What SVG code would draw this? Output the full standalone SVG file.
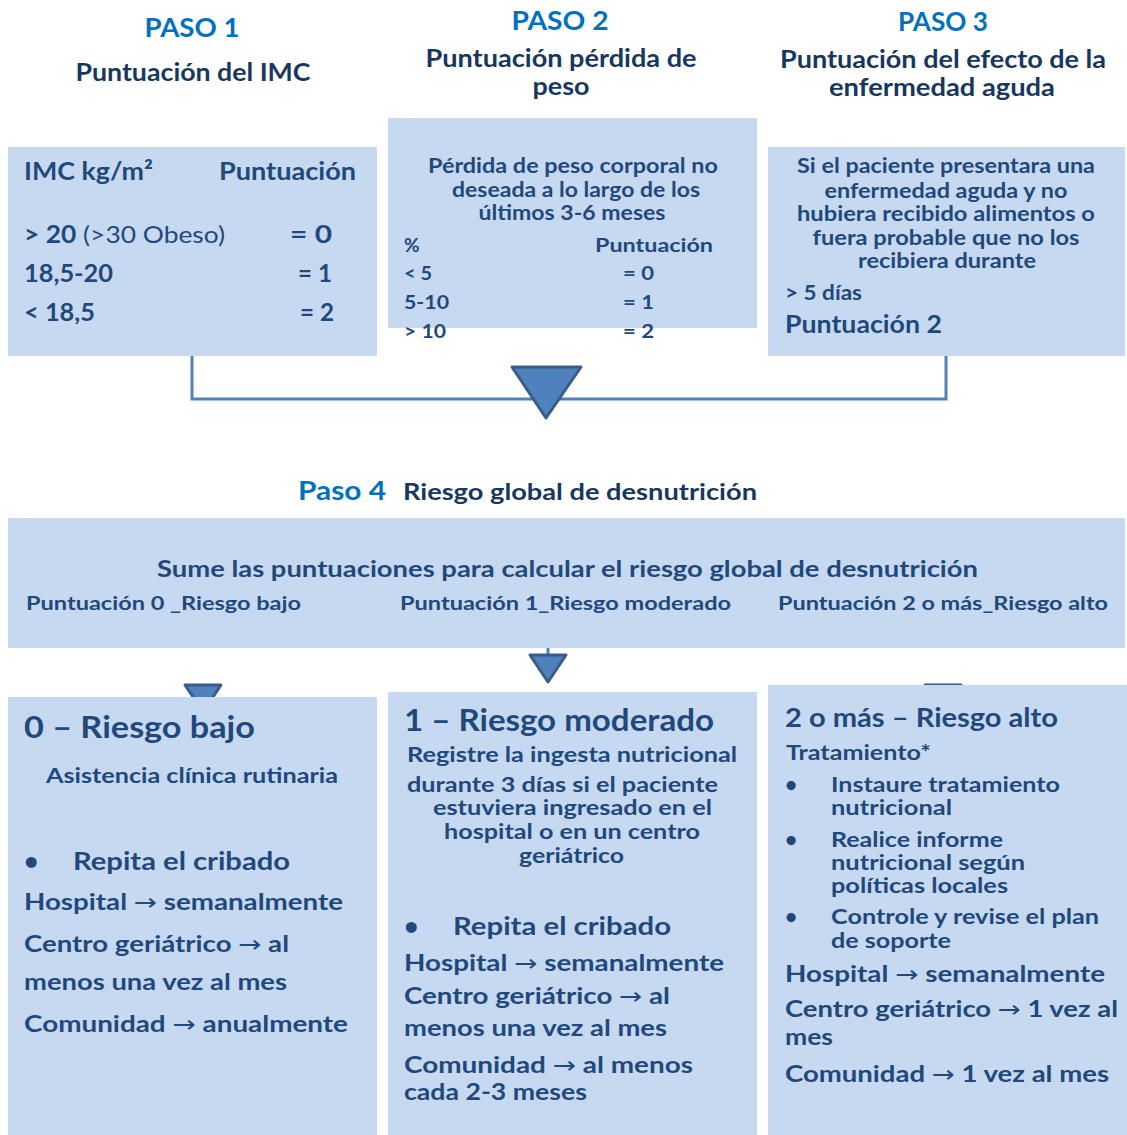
<svg xmlns="http://www.w3.org/2000/svg" width="1127" height="1135" viewBox="0 0 1127 1135">
<style>
text{font-family:Lato,"Open Sans","Liberation Sans",sans-serif;font-weight:700;fill:#1F497D}
.paso{fill:#0070C0;font-size:26px}
.head{fill:#17375E;font-size:25px}
.box{fill:#C6D9F0}
.c{text-anchor:middle}
.n{font-weight:400}
.arr{font-family:"DejaVu Sans",sans-serif;font-weight:400}
.line{fill:none;stroke:#4F81BD;stroke-width:3}
.tri{fill:#4F81BD;stroke:#385D8A;stroke-width:3;stroke-linejoin:round}
</style>
<rect width="1127" height="1135" fill="#fff"/>
<g id="connectors">
<path class="line" d="M192,356 V399 H946 V356"/>
<polygon class="tri" points="512,367 581,367 546,418"/>
<path class="line" d="M548,648 V656"/>
<polygon class="tri" points="530,655 566,655 548,682"/>
<polygon class="tri" points="185,685 221,685 203,712"/>
<polygon class="tri" points="925,685 961,685 943,712"/>
</g>
<g id="headings">
<text class="paso c" x="192" y="37" textLength="95" lengthAdjust="spacingAndGlyphs">PASO 1</text>
<text class="head c" x="193" y="81" textLength="235" lengthAdjust="spacingAndGlyphs">Puntuación del IMC</text>
<text class="paso c" x="560" y="30" textLength="97" lengthAdjust="spacingAndGlyphs">PASO 2</text>
<text class="head c" x="561" y="67" textLength="271" lengthAdjust="spacingAndGlyphs">Puntuación pérdida de</text>
<text class="head c" x="561" y="95" textLength="57" lengthAdjust="spacingAndGlyphs">peso</text>
<text class="paso c" x="943" y="31" textLength="90" lengthAdjust="spacingAndGlyphs">PASO 3</text>
<text class="head c" x="943" y="68" textLength="326" lengthAdjust="spacingAndGlyphs">Puntuación del efecto de la</text>
<text class="head c" x="942" y="96" textLength="226" lengthAdjust="spacingAndGlyphs">enfermedad aguda</text>
</g>
<g id="paso1">
<rect class="box" x="8" y="147" width="369" height="209"/>
<text x="24" y="180" font-size="24" textLength="129" lengthAdjust="spacingAndGlyphs">IMC kg/m²</text>
<text x="219" y="180" font-size="24" textLength="137" lengthAdjust="spacingAndGlyphs">Puntuación</text>
<text x="24" y="243" font-size="24" textLength="201" lengthAdjust="spacingAndGlyphs">&gt; 20<tspan class="n"> (&gt;30 Obeso)</tspan></text>
<text x="290" y="243" font-size="24" textLength="42" lengthAdjust="spacingAndGlyphs">=  0</text>
<text x="24" y="282" font-size="24" textLength="89" lengthAdjust="spacingAndGlyphs">18,5-20</text>
<text x="298" y="282" font-size="24" textLength="34" lengthAdjust="spacingAndGlyphs">= 1</text>
<text x="24" y="321" font-size="24" textLength="71" lengthAdjust="spacingAndGlyphs">&lt; 18,5</text>
<text x="300" y="321" font-size="24" textLength="34" lengthAdjust="spacingAndGlyphs">= 2</text>
</g>
<g id="paso2">
<rect class="box" x="388" y="118" width="369" height="210"/>
<text class="c" x="573" y="173" font-size="20" textLength="290" lengthAdjust="spacingAndGlyphs">Pérdida de peso corporal no</text>
<text class="c" x="576" y="197" font-size="20" textLength="248" lengthAdjust="spacingAndGlyphs">deseada a lo largo de los</text>
<text class="c" x="572" y="220" font-size="20" textLength="187" lengthAdjust="spacingAndGlyphs">últimos 3-6 meses</text>
<text x="404" y="252" font-size="19">%</text>
<text x="595" y="252" font-size="19" textLength="118" lengthAdjust="spacingAndGlyphs">Puntuación</text>
<text x="404" y="280" font-size="19" textLength="28" lengthAdjust="spacingAndGlyphs">&lt; 5</text>
<text x="623" y="280" font-size="19" textLength="31" lengthAdjust="spacingAndGlyphs">= 0</text>
<text x="404" y="309" font-size="19" textLength="45" lengthAdjust="spacingAndGlyphs">5-10</text>
<text x="623" y="309" font-size="19" textLength="31" lengthAdjust="spacingAndGlyphs">= 1</text>
<text x="404" y="338" font-size="19" textLength="42" lengthAdjust="spacingAndGlyphs">&gt; 10</text>
<text x="623" y="338" font-size="19" textLength="31" lengthAdjust="spacingAndGlyphs">= 2</text>
</g>
<g id="paso3">
<rect class="box" x="768" y="147" width="357" height="209"/>
<text class="c" x="946" y="173" font-size="20" textLength="298" lengthAdjust="spacingAndGlyphs">Si el paciente presentara una</text>
<text class="c" x="946" y="198" font-size="20" textLength="243" lengthAdjust="spacingAndGlyphs">enfermedad aguda y no</text>
<text class="c" x="946" y="221" font-size="20" textLength="298" lengthAdjust="spacingAndGlyphs">hubiera recibido alimentos o</text>
<text class="c" x="946" y="245" font-size="20" textLength="267" lengthAdjust="spacingAndGlyphs">fuera probable que no los</text>
<text class="c" x="947" y="268" font-size="20" textLength="178" lengthAdjust="spacingAndGlyphs">recibiera durante</text>
<text x="785" y="300" font-size="20" textLength="77" lengthAdjust="spacingAndGlyphs">&gt; 5 días</text>
<text x="785" y="333" font-size="25" textLength="157" lengthAdjust="spacingAndGlyphs">Puntuación 2</text>
</g>
<g id="paso4">
<text class="paso" x="298" y="500" textLength="88" lengthAdjust="spacingAndGlyphs">Paso 4</text>
<text x="403" y="500" font-size="23" fill="#17375E" style="fill:#17375E" textLength="354" lengthAdjust="spacingAndGlyphs">Riesgo global de desnutrición</text>
<rect class="box" x="8" y="518" width="1117" height="130"/>
<text x="157" y="577" font-size="23" textLength="821" lengthAdjust="spacingAndGlyphs">Sume las puntuaciones para calcular el riesgo global de desnutrición</text>
<text x="26" y="610" font-size="19" textLength="275" lengthAdjust="spacingAndGlyphs">Puntuación 0 _Riesgo bajo</text>
<text x="400" y="610" font-size="19" textLength="331" lengthAdjust="spacingAndGlyphs">Puntuación 1_Riesgo moderado</text>
<text x="778" y="610" font-size="19" textLength="330" lengthAdjust="spacingAndGlyphs">Puntuación 2 o más_Riesgo alto</text>
</g>
<g id="riesgo-bajo">
<rect class="box" x="8" y="697" width="369" height="438"/>
<text x="24" y="738" font-size="31" textLength="231" lengthAdjust="spacingAndGlyphs">0 – Riesgo bajo</text>
<text x="46" y="783" font-size="20" textLength="292" lengthAdjust="spacingAndGlyphs">Asistencia clínica rutinaria</text>
<text x="24" y="870" font-size="25">•</text>
<text x="73" y="870" font-size="25" textLength="217" lengthAdjust="spacingAndGlyphs">Repita el cribado</text>
<text x="24" y="910" font-size="23" textLength="319" lengthAdjust="spacingAndGlyphs">Hospital <tspan class="arr">→</tspan> semanalmente</text>
<text x="24" y="952" font-size="23" textLength="265" lengthAdjust="spacingAndGlyphs">Centro geriátrico <tspan class="arr">→</tspan> al</text>
<text x="24" y="990" font-size="23" textLength="263" lengthAdjust="spacingAndGlyphs">menos una vez al mes</text>
<text x="24" y="1032" font-size="23" textLength="324" lengthAdjust="spacingAndGlyphs">Comunidad <tspan class="arr">→</tspan> anualmente</text>
</g>
<g id="riesgo-moderado">
<rect class="box" x="388" y="692" width="369" height="443"/>
<text x="404" y="731" font-size="30" textLength="310" lengthAdjust="spacingAndGlyphs">1 – Riesgo moderado</text>
<text x="407" y="762" font-size="21" textLength="330" lengthAdjust="spacingAndGlyphs">Registre la ingesta nutricional</text>
<text x="407" y="792" font-size="21" textLength="311" lengthAdjust="spacingAndGlyphs">durante 3 días si el paciente</text>
<text x="433" y="815" font-size="21" textLength="279" lengthAdjust="spacingAndGlyphs">estuviera ingresado en el</text>
<text x="444" y="839" font-size="21" textLength="256" lengthAdjust="spacingAndGlyphs">hospital o en un centro</text>
<text x="519" y="863" font-size="21" textLength="105" lengthAdjust="spacingAndGlyphs">geriátrico</text>
<text x="404" y="935" font-size="25">•</text>
<text x="453" y="935" font-size="25" textLength="218" lengthAdjust="spacingAndGlyphs">Repita el cribado</text>
<text x="404" y="971" font-size="23" textLength="320" lengthAdjust="spacingAndGlyphs">Hospital <tspan class="arr">→</tspan> semanalmente</text>
<text x="404" y="1004" font-size="23" textLength="266" lengthAdjust="spacingAndGlyphs">Centro geriátrico <tspan class="arr">→</tspan> al</text>
<text x="404" y="1036" font-size="23" textLength="263" lengthAdjust="spacingAndGlyphs">menos una vez al mes</text>
<text x="404" y="1073" font-size="23" textLength="289" lengthAdjust="spacingAndGlyphs">Comunidad <tspan class="arr">→</tspan> al menos</text>
<text x="404" y="1100" font-size="23" textLength="183" lengthAdjust="spacingAndGlyphs">cada 2-3 meses</text>
</g>
<g id="riesgo-alto">
<rect class="box" x="768" y="685" width="359" height="450"/>
<text x="785" y="727" font-size="27" textLength="273" lengthAdjust="spacingAndGlyphs">2 o más – Riesgo alto</text>
<text x="786" y="760" font-size="21" textLength="145" lengthAdjust="spacingAndGlyphs">Tratamiento*</text>
<text x="785" y="792" font-size="21">•</text>
<text x="831" y="792" font-size="21" textLength="229" lengthAdjust="spacingAndGlyphs">Instaure tratamiento</text>
<text x="831" y="815" font-size="21" textLength="121" lengthAdjust="spacingAndGlyphs">nutricional</text>
<text x="785" y="847" font-size="21">•</text>
<text x="831" y="847" font-size="21" textLength="172" lengthAdjust="spacingAndGlyphs">Realice informe</text>
<text x="831" y="870" font-size="21" textLength="194" lengthAdjust="spacingAndGlyphs">nutricional según</text>
<text x="831" y="893" font-size="21" textLength="177" lengthAdjust="spacingAndGlyphs">políticas locales</text>
<text x="785" y="924" font-size="21">•</text>
<text x="831" y="924" font-size="21" textLength="268" lengthAdjust="spacingAndGlyphs">Controle y revise el plan</text>
<text x="831" y="948" font-size="21" textLength="120" lengthAdjust="spacingAndGlyphs">de soporte</text>
<text x="785" y="982" font-size="23" textLength="320" lengthAdjust="spacingAndGlyphs">Hospital <tspan class="arr">→</tspan> semanalmente</text>
<text x="785" y="1017" font-size="23" textLength="333" lengthAdjust="spacingAndGlyphs">Centro geriátrico <tspan class="arr">→</tspan> 1 vez al</text>
<text x="785" y="1045" font-size="23" textLength="48" lengthAdjust="spacingAndGlyphs">mes</text>
<text x="785" y="1082" font-size="23" textLength="324" lengthAdjust="spacingAndGlyphs">Comunidad <tspan class="arr">→</tspan> 1 vez al mes</text>
</g>
</svg>
